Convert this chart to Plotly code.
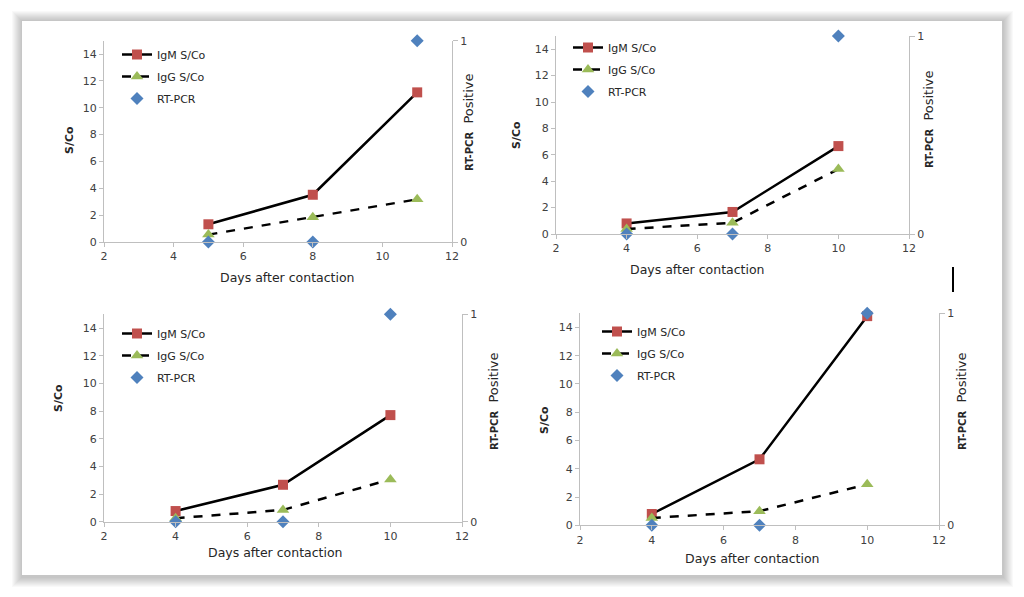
import plotly.graph_objects as go

W, H = 1024, 597
OFF = 8  # page body margin of the browser

# ---- data ----
days = [[5, 8, 11], [4, 7, 10], [4, 7, 10], [4, 7, 10]]
igm = [[1.32, 3.52, 11.15], [0.8, 1.67, 6.66], [0.77, 2.67, 7.71], [0.8, 4.67, 14.8]]
igg = [[0.55, 1.84, 3.18], [0.38, 0.85, 4.92], [0.25, 0.85, 3.06], [0.52, 1.0, 2.9]]
rtpcr = [[0, 0, 1], [0, 0, 1], [0, 0, 1], [0, 0, 1]]
x_ticks = [2, 4, 6, 8, 10, 12]
y_ticks = [0, 2, 4, 6, 8, 10, 12, 14]
y2_ticks = [0, 1]
series_names = ["IgM S/Co", "IgG S/Co", "RT-PCR"]

# ---- layout geometry (screen pixels) ----
boxes = [(104, 452, 40.7, 242), (556, 909, 36, 234),
         (104, 462, 314.3, 521.7), (580, 939, 313.3, 525.3)]
ytitle_pos = [(69, 140), (517, 135), (58, 398), (544, 420)]
y2title_pos = [(469, 122), (928, 119), (493, 401), (961, 401)]
xtitle_pos = [(287, 277), (697, 269), (275, 552), (752, 558)]
legend_pos = [(117, 40), (568, 33), (117, 319), (597, 317)]


def px(x):
    return (x - OFF) / W


def py(y):
    return 1 - (y - OFF) / H


FONT = "DejaVu Sans"
AX = "#bfbfbf"
TXT = "#404040"

fig = go.Figure()
layout = dict()
annotations = []
shapes = []

# soft card shadow + white card
for d in range(10, 0, -1):
    shapes.append(dict(type="rect", xref="paper", yref="paper",
                       x0=px(22 - d), x1=px(1002 + d + 1),
                       y0=py(575 + d + 2), y1=py(21 - d),
                       fillcolor="rgba(0,0,0,0.022)", line=dict(width=0), layer="below"))
shapes.append(dict(type="rect", xref="paper", yref="paper",
                   x0=px(22), x1=px(1002), y0=py(575), y1=py(21),
                   fillcolor="white", line=dict(width=0), layer="below"))
# stray mark on the page
shapes.append(dict(type="line", xref="paper", yref="paper",
                   x0=px(953), x1=px(953), y0=py(267), y1=py(292),
                   line=dict(color="black", width=2)))

for i in range(4):
    n = i + 1
    xa = "x" if n == 1 else f"x{n}"
    ya = f"y{2*i+1}" if i > 0 else "y"
    yb = f"y{2*i+2}"
    xkey = "xaxis" if n == 1 else f"xaxis{n}"
    ykey = "yaxis" if i == 0 else f"yaxis{2*i+1}"
    y2key = f"yaxis{2*i+2}"
    lg = "legend" if n == 1 else f"legend{n}"
    l, r, t, b = boxes[i]

    fig.add_trace(go.Scatter(x=days[i], y=igm[i], name=series_names[0], xaxis=xa, yaxis=ya,
                             mode="lines+markers", legend=lg, legendgroup="a",
                             line=dict(color="black", width=2.5),
                             marker=dict(symbol="square", size=10, color="#c0504d"),
                             cliponaxis=False))
    fig.add_trace(go.Scatter(x=days[i], y=igg[i], name=series_names[1], xaxis=xa, yaxis=ya,
                             mode="lines+markers", legend=lg, legendgroup="b",
                             line=dict(color="black", width=2.5, dash="dash"),
                             marker=dict(symbol="triangle-up", size=11, color="#9bbb59"),
                             cliponaxis=False))
    fig.add_trace(go.Scatter(x=days[i], y=rtpcr[i], name=series_names[2], xaxis=xa, yaxis=yb,
                             mode="markers", legend=lg, legendgroup="c",
                             marker=dict(symbol="diamond", size=10, color="#4f81bd"),
                             cliponaxis=False))

    common = dict(showgrid=False, zeroline=False, showline=True, linecolor=AX, linewidth=1,
                  ticks="outside", tickcolor=AX, automargin=False,
                  tickfont=dict(family=FONT, size=11, color=TXT))
    layout[xkey] = dict(domain=[px(l), px(r)], anchor=ya, range=[2, 12], tickvals=x_ticks,
                        ticklen=4, **common)
    layout[ykey] = dict(domain=[py(b), py(t)], anchor=xa, range=[0, 15], tickvals=y_ticks,
                        ticklen=4, **common)
    layout[y2key] = dict(domain=[py(b), py(t)], anchor=xa, overlaying=ya, side="right",
                         range=[0, 1], tickvals=y2_ticks, ticklen=5, **common)
    lx, ly = legend_pos[i]
    layout[lg] = dict(x=px(lx), y=py(ly), xanchor="left", yanchor="top",
                      bgcolor="rgba(0,0,0,0)", tracegroupgap=3,
                      font=dict(family=FONT, size=11, color="#262626"))

    ann = dict(xref="paper", yref="paper", showarrow=False, xanchor="center", yanchor="middle")
    xt, yt = ytitle_pos[i]
    annotations.append(dict(text="<b>S/Co</b>", x=px(xt), y=py(yt), textangle=-90,
                            font=dict(family=FONT, size=11, color="#262626"), **ann))
    xt, yt = y2title_pos[i]
    annotations.append(dict(text="<b><span style='font-size:10px'>RT-PCR</span></b>  Positive",
                            x=px(xt), y=py(yt), textangle=-90,
                            font=dict(family=FONT, size=13, color="#262626"), **ann))
    xt, yt = xtitle_pos[i]
    annotations.append(dict(text="Days after contaction", x=px(xt), y=py(yt),
                            font=dict(family=FONT, size=12.5, color="#262626"), **ann))

fig.update_layout(**layout)
fig.update_layout(width=W, height=H, margin=dict(l=0, r=0, t=0, b=0, autoexpand=False),
                  paper_bgcolor="white", plot_bgcolor="rgba(0,0,0,0)",
                  showlegend=True, annotations=annotations, shapes=shapes)

fig.write_html("out.html")
